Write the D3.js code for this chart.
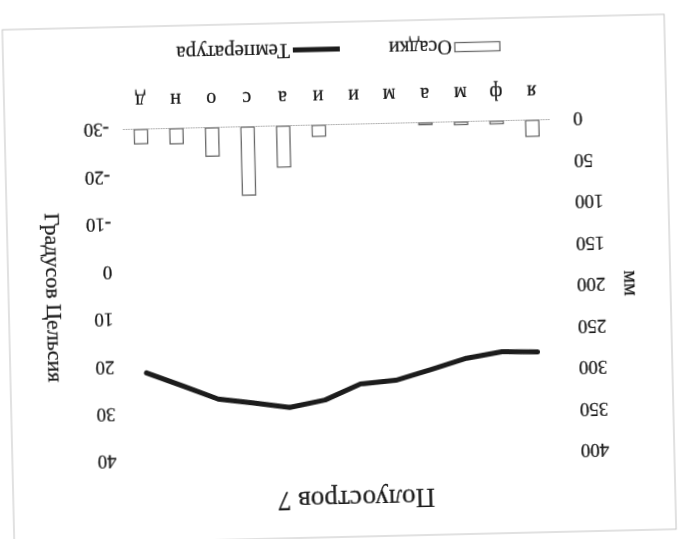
<!DOCTYPE html>
<html>
<head>
<meta charset="utf-8">
<script src="https://cdn.jsdelivr.net/npm/d3@7"></script>
<style>
  body { margin: 0; background: #fff; }
  text { font-family: "Liberation Serif", "Times New Roman", serif; fill: #1a1a1a; stroke: #1a1a1a; stroke-width: 0.25px; }
</style>
</head>
<body>
<div id="chart"></div>
<script>
// Chart data (months of the year, Russian initials)
var months = ["я", "ф", "м", "а", "м", "и", "и", "а", "с", "о", "н", "д"];
var precip = [19, 3, 3, 2, 0, 0, 13, 49, 82, 34, 18, 17];          // мм
var temp = [18.8, 18.6, 19.8, 22.0, 24.1, 24.7, 27.9, 29.3, 28.2, 27.2, 24.2, 21.3]; // °C
var precipTicks = [0, 50, 100, 150, 200, 250, 300, 350, 400];
var tempTicks = [-30, -20, -10, 0, 10, 20, 30, 40];

var W = 678, H = 539;

var svg = d3.select("#chart").append("svg")
    .attr("width", W)
    .attr("height", H);

// slight softness like the scanned page
var defs = svg.append("defs");
defs.append("filter").attr("id", "soft")
    .append("feGaussianBlur").attr("stdDeviation", 0.45);

// the whole scan is upside down and a little tilted
var g = svg.append("g")
    .attr("transform", "rotate(178.66," + W / 2 + "," + H / 2 + ")")
    .attr("filter", "url(#soft)");

// chart area border
g.append("rect")
    .attr("x", 8).attr("y", 2)
    .attr("width", 662).attr("height", 515)
    .attr("fill", "none")
    .attr("stroke", "#c4c4c4")
    .attr("stroke-width", 1);

var plot = {left: 124.6, right: 551.7, top: 82, bottom: 414};

var x = d3.scaleBand()
    .domain(d3.range(months.length))
    .range([plot.left, plot.right]);

var yP = d3.scaleLinear().domain([0, 400]).range([plot.bottom, plot.top]);
var yT = d3.scaleLinear().domain([-30, 40]).range([plot.bottom, plot.top]);

var barW = x.bandwidth() * 0.37;

// precipitation bars
g.selectAll(".bar")
    .data(precip)
    .enter().append("rect")
    .attr("class", "bar")
    .attr("x", function(d, i) { return x(i) + (x.bandwidth() - barW) / 2; })
    .attr("y", function(d) { return yP(d); })
    .attr("width", barW)
    .attr("height", function(d) { return plot.bottom - yP(d); })
    .attr("fill", "#fff")
    .attr("stroke", function(d) { return d > 0 ? "#666" : "none"; })
    .attr("stroke-width", 1.3);

// category axis
var xAxis = g.append("g")
    .attr("transform", "translate(0," + plot.bottom + ")")
    .call(d3.axisBottom(x).tickSize(0).tickPadding(21)
        .tickFormat(function(i) { return months[i]; }));
xAxis.select(".domain")
    .attr("stroke", "#9a9a9a")
    .attr("stroke-dasharray", "1.5,1");
xAxis.selectAll("text")
    .style("font-size", "20px")
    .attr("font-family", null);

// left axis, мм
var pAxis = g.append("g")
    .attr("transform", "translate(" + plot.left + ",0)")
    .call(d3.axisLeft(yP).tickValues(precipTicks).tickSize(0).tickPadding(23)
        .tickFormat(String));
pAxis.select(".domain").remove();
pAxis.selectAll("text").style("font-size", "19px").attr("font-family", null);

// right axis, degrees
var tAxis = g.append("g")
    .attr("transform", "translate(" + plot.right + ",0)")
    .call(d3.axisRight(yT).tickValues(tempTicks).tickSize(0).tickPadding(14)
        .tickFormat(String));
tAxis.select(".domain").remove();
tAxis.selectAll("text").style("font-size", "19px").attr("font-family", null);

// temperature line
var line = d3.line()
    .x(function(d, i) { return x(i) + x.bandwidth() / 2; })
    .y(function(d) { return yT(d); });

g.append("path")
    .datum(temp)
    .attr("d", line)
    .attr("fill", "none")
    .attr("stroke", "#1a1a1a")
    .attr("stroke-width", 5)
    .attr("stroke-linejoin", "round")
    .attr("stroke-linecap", "round");

// titles
g.append("text")
    .attr("x", 327).attr("y", 38.7)
    .attr("dy", "0.34em")
    .attr("text-anchor", "middle")
    .style("font-size", "27px")
    .text("Полуостров 7");

g.append("text")
    .attr("transform", "translate(48,249) rotate(-90)")
    .attr("dy", "0.3em")
    .attr("text-anchor", "middle")
    .style("font-size", "20px")
    .text("мм");

g.append("text")
    .attr("transform", "translate(625,248) rotate(-90)")
    .attr("dy", "0.3em")
    .attr("text-anchor", "middle")
    .style("font-size", "22px")
    .text("Градусов Цельсия");

// legend
var legend = g.append("g").attr("transform", "translate(0,489)");
legend.append("rect")
    .attr("x", 173).attr("y", -4.5)
    .attr("width", 45).attr("height", 9)
    .attr("fill", "#fff")
    .attr("stroke", "#666")
    .attr("stroke-width", 1.3);
legend.append("text")
    .attr("x", 221).attr("dy", "0.33em")
    .style("font-size", "20px")
    .text("Осадки");
legend.append("line")
    .attr("x1", 333).attr("x2", 380)
    .attr("y1", 1).attr("y2", 1)
    .attr("stroke", "#1a1a1a")
    .attr("stroke-width", 5);
legend.append("text")
    .attr("x", 383).attr("dy", "0.33em")
    .style("font-size", "21px")
    .text("Температура");
</script>
</body>
</html>
